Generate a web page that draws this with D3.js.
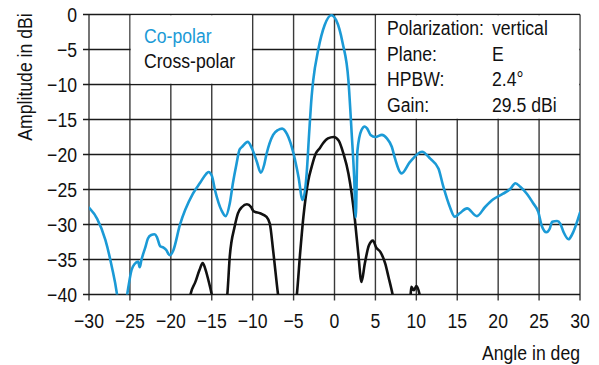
<!DOCTYPE html>
<html>
<head>
<meta charset="utf-8">
<script src="https://cdn.jsdelivr.net/npm/d3@7/dist/d3.min.js"></script>
<style>
  html, body { margin: 0; padding: 0; background: #fff; }
  svg text { font-family: "Liberation Sans", Arial, sans-serif; fill: #111; }
</style>
</head>
<body>
<svg id="chart" width="599" height="365"></svg>
<script>
// Antenna pattern, E-plane: co-polar and cross-polar amplitude vs. angle
const coAngle = [-30.0, -29.0, -28.0, -27.2, -26.6, -26.0, -25.4, -25.2, -24.8, -24.4, -24.0, -23.8, -23.6, -23.1, -22.8, -22.4, -22.0, -21.7, -21.3, -20.9, -20.6, -20.1, -19.7, -18.9, -17.3, -16.4, -15.7, -15.4, -15.0, -14.6, -13.8, -13.3, -12.8, -12.4, -12.0, -11.6, -11.3, -10.6, -10.1, -9.5, -9.0, -8.6, -8.3, -7.5, -6.9, -6.4, -5.8, -5.0, -4.4, -3.9, -3.4, -3.1, -2.8, -2.6, -2.0, -1.2, -0.4, 0.2, 1.0, 1.7, 2.1, 2.4, 2.6, 2.8, 3.3, 3.7, 4.0, 4.4, 5.0, 5.8, 6.4, 7.0, 7.4, 8.2, 9.2, 10.7, 11.7, 12.7, 13.3, 14.1, 14.7, 15.3, 16.2, 17.4, 18.4, 19.4, 20.6, 21.5, 22.1, 22.7, 23.5, 24.3, 24.9, 25.3, 25.9, 26.3, 26.6, 27.2, 27.6, 28.0, 28.6, 29.0, 30.0];
const coAmp   = [-27.6, -29.2, -32.2, -36.1, -39.8, -46.0, -40.5, -39.0, -36.5, -35.6, -35.3, -36.1, -35.1, -33.2, -32.0, -31.5, -31.4, -31.8, -33.1, -33.3, -33.6, -34.4, -33.7, -30.1, -25.6, -24.0, -22.8, -22.5, -23.0, -25.1, -28.0, -28.8, -27.0, -24.0, -21.5, -19.3, -18.9, -18.2, -19.1, -21.0, -22.6, -21.5, -19.9, -17.2, -16.5, -16.3, -17.1, -19.9, -23.2, -26.5, -22.7, -17.0, -11.8, -9.4, -5.1, -1.5, -0.1, -0.8, -4.1, -9.4, -17.0, -23.2, -29.0, -19.5, -16.5, -16.0, -16.3, -17.2, -17.5, -17.2, -17.7, -18.9, -20.6, -22.7, -21.1, -19.6, -20.6, -22.0, -24.6, -27.5, -28.9, -28.4, -27.7, -28.8, -27.5, -26.4, -25.6, -24.9, -24.1, -24.6, -25.6, -27.0, -28.2, -30.1, -31.1, -30.6, -29.6, -29.5, -29.9, -31.1, -32.1, -31.5, -28.3];

const xAngle = [-18.2, -17.6, -17.0, -16.5, -16.1, -15.8, -15.4, -15.0, -14.0, -13.2, -13.1, -12.8, -12.2, -11.8, -11.3, -10.7, -10.2, -9.9, -9.1, -8.3, -7.9, -7.5, -6.9, -5.8, -4.7, -4.6, -4.2, -3.8, -3.2, -2.8, -2.3, -1.8, -1.4, -0.8, -0.1, 0.5, 1.1, 1.7, 2.1, 2.5, 2.9, 3.3, 3.7, 4.2, 4.7, 5.1, 5.6, 6.2, 6.6, 7.1, 8.0, 9.2, 9.3, 9.4, 9.7, 10.0, 10.4, 11.0];
const xAmp   = [-45.0, -40.0, -38.2, -36.5, -35.5, -36.3, -38.0, -40.0, -48.0, -41.0, -40.0, -34.6, -30.3, -28.4, -27.5, -27.1, -27.5, -28.1, -28.4, -28.9, -29.9, -33.7, -40.0, -48.0, -41.0, -40.0, -34.1, -28.9, -23.7, -21.8, -19.9, -19.1, -18.4, -17.7, -17.5, -18.0, -19.9, -22.7, -25.6, -29.4, -34.1, -38.2, -35.6, -33.0, -32.3, -33.3, -33.9, -35.6, -37.5, -40.0, -46.0, -41.0, -40.0, -38.9, -39.4, -38.8, -40.0, -45.0];

const xTicks = [-30, -25, -20, -15, -10, -5, 0, 5, 10, 15, 20, 25, 30];
const yTicks = [0, -5, -10, -15, -20, -25, -30, -35, -40];

const legendItems = ["Co-polar", "Cross-polar"];
const legendColors = ["#1b9ad6", "#111111"];
const infoKeys = ["Polarization:", "Plane:", "HPBW:", "Gain:"];
const infoVals = ["vertical", "E", "2.4\u00b0", "29.5 dBi"];

const svg = d3.select("#chart");
const plotL = 89, plotR = 580, plotT = 14.5, plotB = 294.5;
const FS = 21;        // font size
const SX = 0.84;      // horizontal squeeze for the narrow typeface look

const x = d3.scaleLinear().domain([-30, 30]).range([plotL, plotR]);
const y = d3.scaleLinear().domain([0, -40]).range([plotT, plotB]);
const minus = v => String(v).replace("-", "\u2212");
const at = (px, py) => `translate(${px},${py}) scale(${SX},1)`;

// clip region for curves
svg.append("defs").append("clipPath").attr("id", "plotClip")
  .append("rect").attr("x", plotL).attr("y", plotT - 3).attr("width", plotR - plotL).attr("height", plotB - plotT + 3);

// grid: vertical lines (extend below as ticks), horizontal lines (extend left as ticks)
const grid = svg.append("g");
grid.selectAll("line.v").data(xTicks).join("line")
  .attr("class", "v")
  .attr("x1", d => x(d)).attr("x2", d => x(d))
  .attr("y1", plotT).attr("y2", plotB + 6)
  .attr("stroke", "#3a3a3a").attr("stroke-width", 1.4);
grid.selectAll("line.h").data(yTicks).join("line")
  .attr("class", "h")
  .attr("x1", plotL - 6).attr("x2", plotR)
  .attr("y1", d => y(d)).attr("y2", d => y(d))
  .attr("stroke", "#1a1a1a").attr("stroke-width", 1.3);

// white panels behind legend and info text
svg.append("rect")
  .attr("x", x(-25) + 0.8).attr("y", y(0) + 0.8)
  .attr("width", x(-10) - x(-25) - 1.6).attr("height", y(-10) - y(0) - 1.6)
  .attr("fill", "#fff");
svg.append("rect")
  .attr("x", x(5) + 0.8).attr("y", y(0) + 0.8)
  .attr("width", x(30) - x(5) - 1.6).attr("height", y(-15) - y(0) - 1.6)
  .attr("fill", "#fff");

// tick labels
svg.append("g").selectAll("text").data(xTicks).join("text")
  .attr("transform", d => at(x(d), 328))
  .attr("text-anchor", "middle").attr("font-size", FS)
  .text(minus);
svg.append("g").selectAll("text").data(yTicks).join("text")
  .attr("transform", d => at(77, y(d)))
  .attr("dy", "0.36em")
  .attr("text-anchor", "end").attr("font-size", FS)
  .text(minus);

// axis titles
svg.append("text")
  .attr("transform", `translate(32,77) rotate(-90) scale(${SX},1)`)
  .attr("text-anchor", "middle").attr("font-size", FS)
  .text("Amplitude in dBi");
svg.append("text")
  .attr("transform", at(580, 360))
  .attr("text-anchor", "end").attr("font-size", FS)
  .text("Angle in deg");

// curves
const line = d3.line()
  .x(d => x(d[0])).y(d => y(d[1]))
  .curve(d3.curveMonotoneX);
const curves = svg.append("g").attr("clip-path", "url(#plotClip)");
curves.append("path")
  .attr("d", line(d3.zip(xAngle, xAmp)))
  .attr("fill", "none").attr("stroke", legendColors[1])
  .attr("stroke-width", 2.6).attr("stroke-linejoin", "round").attr("stroke-linecap", "round");
curves.append("path")
  .attr("d", line(d3.zip(coAngle, coAmp)))
  .attr("fill", "none").attr("stroke", legendColors[0])
  .attr("stroke-width", 2.6).attr("stroke-linejoin", "round").attr("stroke-linecap", "round");

// legend
svg.append("g").selectAll("text").data(legendItems).join("text")
  .attr("transform", (d, i) => at(144, 43 + i * 25))
  .attr("font-size", FS)
  .style("fill", (d, i) => legendColors[i])
  .text(d => d);

// info panel
const info = svg.append("g");
info.selectAll("text.k").data(infoKeys).join("text")
  .attr("class", "k")
  .attr("transform", (d, i) => at(387, 35 + i * 25.7))
  .attr("font-size", FS).text(d => d);
info.selectAll("text.v").data(infoVals).join("text")
  .attr("class", "v")
  .attr("transform", (d, i) => at(492, 35 + i * 25.7))
  .attr("font-size", FS).text(d => d);
</script>
</body>
</html>
